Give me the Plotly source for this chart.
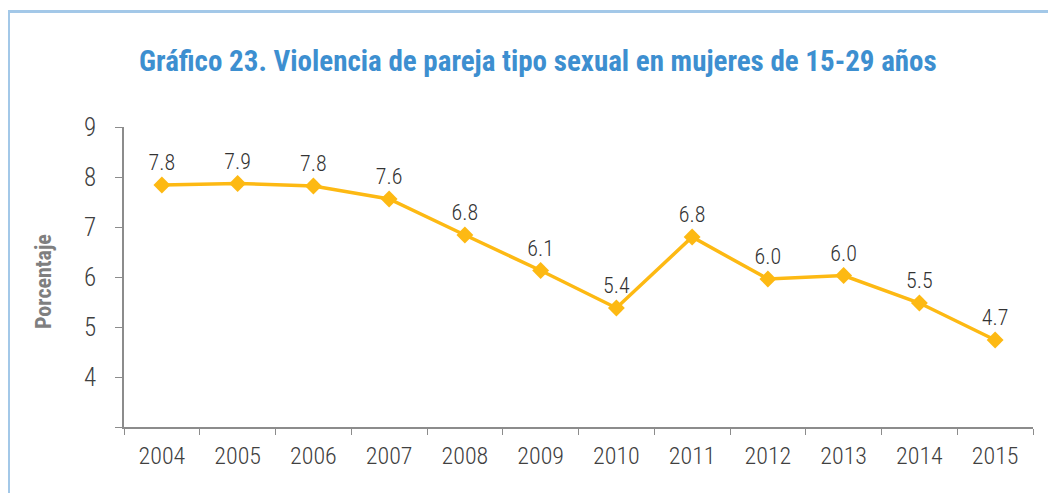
import plotly.graph_objects as go

years = ["2004", "2005", "2006", "2007", "2008", "2009", "2010", "2011", "2012", "2013", "2014", "2015"]
values = [7.84, 7.87, 7.82, 7.56, 6.84, 6.13, 5.38, 6.80, 5.96, 6.03, 5.48, 4.74]
labels = ["7.8", "7.9", "7.8", "7.6", "6.8", "6.1", "5.4", "6.8", "6.0", "6.0", "5.5", "4.7"]
y_ticks = [3, 4, 5, 6, 7, 8, 9]
y_ticktext = ["", "4", "5", "6", "7", "8", "9"]

title = "Gráfico 23. Violencia de pareja tipo sexual en mujeres de 15-29 años"
TFONT = "Roboto Condensed, DejaVu Sans Condensed, sans-serif"
LFONT = "Roboto Condensed, Roboto, sans-serif"

OFF = 8  # page body margin
W, H = 1056 - OFF, 493 - OFF
L, R, T, B = 124 - OFF, 23, 127 - OFF, 66
pw, ph = W - L - R, H - T - B

def px(x):
    return (x - OFF - L) / pw

def py(y):
    return (H - B - (y - OFF)) / ph

fig = go.Figure()
fig.add_trace(go.Scatter(
    x=years, y=values, mode="lines+markers+text",
    text=labels, textposition="top center",
    textfont=dict(family=LFONT, size=22, color="#333333", weight=300),
    line=dict(color="#FDB913", width=3.5),
    marker=dict(symbol="diamond", size=13, color="#FDB913"),
    cliponaxis=False, showlegend=False,
))

fig.update_layout(
    width=W, height=H,
    margin=dict(l=L, r=R, t=T, b=B),
    paper_bgcolor="white", plot_bgcolor="white",
    xaxis=dict(
        type="category", range=[-0.5, len(years) - 0.5],
        tickson="boundaries", ticks="outside", ticklen=6,
        tickcolor="#8c8c8c", showline=True, linecolor="#8c8c8c", linewidth=1.5,
        showgrid=False, zeroline=False, ticklabelstandoff=6,
        tickfont=dict(family=LFONT, size=24, color="#404040", weight=300),
    ),
    yaxis=dict(
        range=[3, 9], tickvals=y_ticks, ticktext=y_ticktext,
        ticks="outside", ticklen=7, tickcolor="#8c8c8c",
        showline=True, linecolor="#8c8c8c", linewidth=1.5,
        showgrid=False, zeroline=False, ticklabelstandoff=14,
        tickfont=dict(family=LFONT, size=25, color="#404040", weight=300),
    ),
    shapes=[dict(
        type="rect", xref="paper", yref="paper",
        x0=px(8.5), x1=px(1090), y0=py(11.5), y1=py(530),
        line=dict(color="#A3C8E8", width=3), fillcolor="rgba(0,0,0,0)", layer="below",
    )],
    annotations=[
        dict(text="<b>" + title + "</b>", xref="paper", yref="paper",
             x=px(538), y=py(61), xanchor="center", yanchor="middle", showarrow=False,
             font=dict(family=TFONT, size=29, color="#3D8FD0")),
        dict(text="<b>Porcentaje</b>", xref="paper", yref="paper",
             x=px(43), y=py(282), xanchor="center", yanchor="middle", showarrow=False,
             textangle=-90, font=dict(family=TFONT, size=22, color="#7F7F7F")),
    ],
)

fig.write_html("out.html")
